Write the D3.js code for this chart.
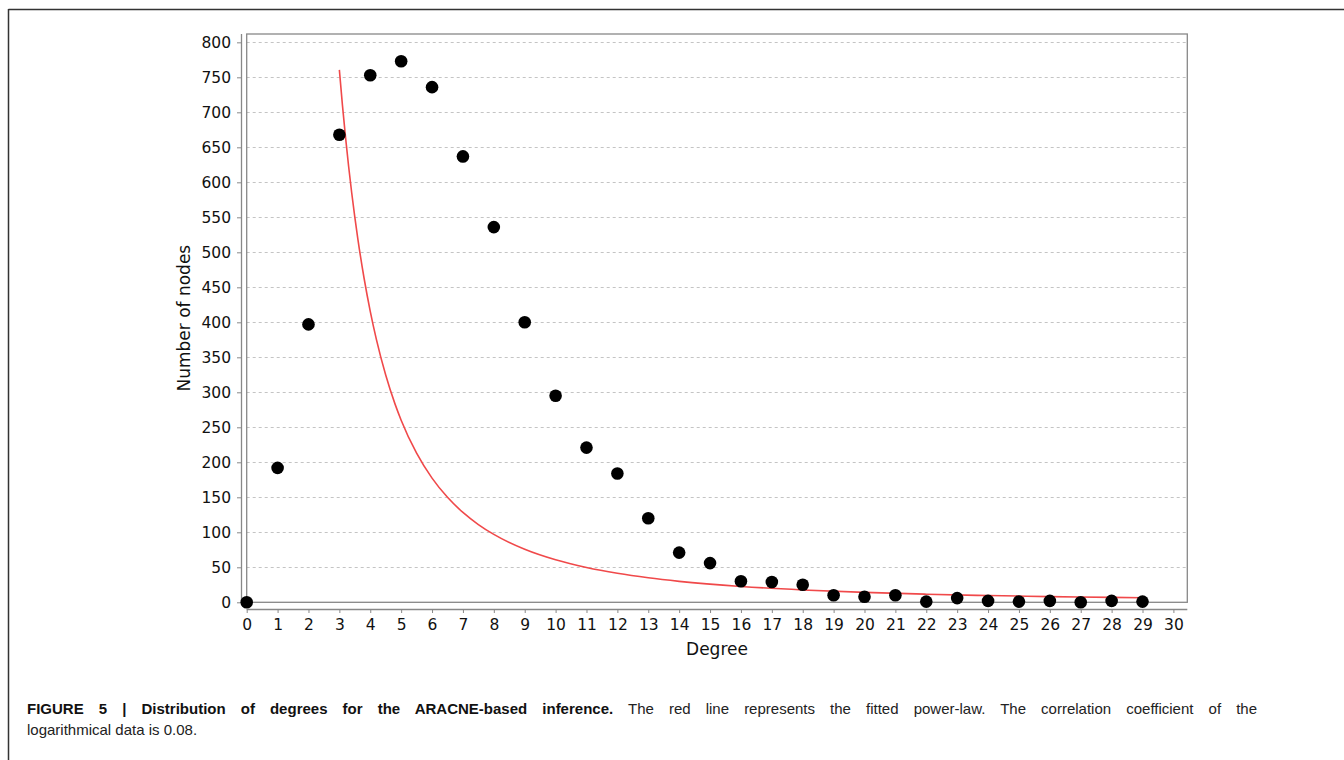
<!DOCTYPE html>
<html>
<head>
<meta charset="utf-8">
<script src="https://cdn.jsdelivr.net/npm/d3@7"></script>
<style>
  body { margin: 0; background: #fff; }
  svg { display: block; }
  .tick text { font-family: "DejaVu Sans", "Open Sans", sans-serif; font-size: 15.5px; fill: #111; }
  .axis-title { font-family: "DejaVu Sans", "Open Sans", sans-serif; font-size: 17px; fill: #111; }
  .caption { font-family: "Liberation Sans", Arial, sans-serif; font-size: 15px; fill: #222; }
</style>
</head>
<body>
<script>
// degree distribution
var degrees = [0, 1, 2, 3, 4, 5, 6, 7, 8, 9, 10, 11, 12, 13, 14, 15, 16, 17, 18, 19, 20, 21, 22, 23, 24, 25, 26, 27, 28, 29];
var nodeCounts = [0, 192, 397, 668, 753, 773, 736, 637, 536, 400, 295, 221, 184, 120, 71, 56, 30, 29, 25, 10, 8, 10, 1, 6, 2, 1, 2, 0, 2, 1];

// fitted power law y = a * x^-b, drawn from x = 3 to 29
var fitA = 7640, fitB = 2.1;
var fitDegrees = [3, 3.1, 3.2, 3.3, 3.4, 3.5, 3.6, 3.8, 4, 4.2, 4.5, 4.8, 5, 5.5, 6, 6.5, 7, 7.5, 8, 9, 10, 11, 12, 13, 14, 16, 18, 20, 22, 24, 26, 28, 29];

var xTicks = d3.range(0, 31);
var yTicks = d3.range(0, 801, 50);

var W = 1344, H = 760;
var pLeft = 246.7, pRight = 1187.3, pTop = 34, pBottom = 602.3;

var svg = d3.select('body').append('svg')
    .attr('width', W)
    .attr('height', H);

var x = d3.scaleLinear().domain([0, 30.45]).range([pLeft, pRight]);
var y = d3.scaleLinear().domain([0, 811.9]).range([pBottom, pTop]);

// figure frame (top and left)
svg.append('line').attr('x1', 8.5).attr('x2', W).attr('y1', 9.5).attr('y2', 9.5)
    .attr('stroke', '#333').attr('stroke-width', 1.5);
svg.append('line').attr('x1', 8.5).attr('x2', 8.5).attr('y1', 9).attr('y2', H)
    .attr('stroke', '#333').attr('stroke-width', 1.5);

// grid lines
svg.append('g')
  .selectAll('line')
  .data(yTicks.filter(function(d) { return d > 0; }))
  .enter().append('line')
    .attr('x1', pLeft).attr('x2', pRight)
    .attr('y1', function(d) { return Math.round(y(d)) + 0.5; })
    .attr('y2', function(d) { return Math.round(y(d)) + 0.5; })
    .attr('stroke', '#c4c4c4')
    .attr('stroke-dasharray', '3,3');

// plot border
svg.append('rect')
    .attr('x', pLeft).attr('y', pTop)
    .attr('width', pRight - pLeft).attr('height', pBottom - pTop)
    .attr('fill', 'none')
    .attr('stroke', '#888')
    .attr('stroke-width', 1.3);

// axes, offset from the plot area
var yAxis = svg.append('g')
    .attr('transform', 'translate(241,0)')
    .call(d3.axisLeft(y).tickValues(yTicks).tickSize(4).tickPadding(6));
var xAxis = svg.append('g')
    .attr('transform', 'translate(0,609)')
    .call(d3.axisBottom(x).tickValues(xTicks).tickSize(4).tickPadding(6));

[yAxis, xAxis].forEach(function(ax) {
  ax.select('.domain').attr('stroke', '#888').attr('stroke-width', 1.3);
  ax.selectAll('.tick line').attr('stroke', '#888');
});
yAxis.select('.domain').attr('d', 'M0.5,' + pTop + 'V' + pBottom);
xAxis.select('.domain').attr('d', 'M' + pLeft + ',0.5H' + pRight);

// axis titles
svg.append('text')
    .attr('class', 'axis-title')
    .attr('x', (pLeft + pRight) / 2)
    .attr('y', 655)
    .attr('text-anchor', 'middle')
    .text('Degree');

svg.append('text')
    .attr('class', 'axis-title')
    .attr('transform', 'translate(190,' + (pTop + pBottom) / 2 + ') rotate(-90)')
    .attr('text-anchor', 'middle')
    .text('Number of nodes');

// fitted curve
var line = d3.line()
    .x(function(d) { return x(d); })
    .y(function(d) { return y(fitA * Math.pow(d, -fitB)); })
    .curve(d3.curveMonotoneX);

svg.append('path')
    .datum(fitDegrees)
    .attr('d', line)
    .attr('fill', 'none')
    .attr('stroke', '#f0494a')
    .attr('stroke-width', 1.6);

// data points
svg.append('g')
  .selectAll('circle')
  .data(degrees)
  .enter().append('circle')
    .attr('cx', function(d) { return x(d); })
    .attr('cy', function(d, i) { return y(nodeCounts[i]); })
    .attr('r', 6.3)
    .attr('fill', '#000');

// caption, first line justified to the text block width
var capLeft = 27, capWidth = 1230;
var boldPart = 'FIGURE 5 | Distribution of degrees for the ARACNE-based inference.';
var restPart = ' The red line represents the fitted power-law. The correlation coefficient of the';
var cap1 = svg.append('text').attr('class', 'caption').attr('x', capLeft).attr('y', 714);
cap1.append('tspan').style('font-weight', 'bold').style('fill', '#111').text(boldPart);
cap1.append('tspan').text(restPart);

var natural = cap1.node().getComputedTextLength();
var spaces = (boldPart + restPart).split(' ').length - 1;
cap1.attr('word-spacing', Math.max(0, (capWidth - natural) / spaces));

svg.append('text').attr('class', 'caption').attr('x', capLeft).attr('y', 735)
    .text('logarithmical data is 0.08.');
</script>
</body>
</html>
